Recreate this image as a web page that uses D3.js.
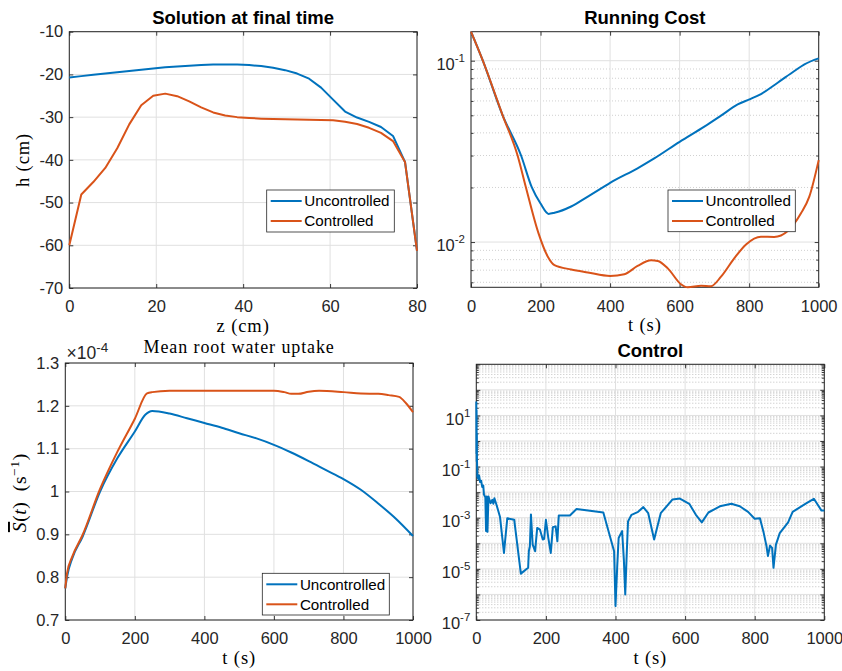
<!DOCTYPE html>
<html>
<head>
<meta charset="utf-8">
<script src="https://cdn.jsdelivr.net/npm/d3@7"></script>
<style>
  html, body { margin: 0; padding: 0; background: #fff; }
  svg { display: block; }
</style>
</head>
<body>
<script>
// ---------------- data ----------------
// Pressure head profile at the final time, h (cm) against depth z (cm)
const zNodes = [0, 2.76, 5.52, 8.28, 11.03, 13.79, 16.55, 19.31, 22.07, 24.83, 27.59, 30.34, 33.1, 35.86, 38.62,
                41.38, 44.14, 46.9, 49.66, 52.41, 55.17, 57.93, 60.69, 63.45, 66.21, 68.97, 71.72, 74.48, 77.24, 80];
const hUncontrolled = [-20.7, -20.4, -20.1, -19.8, -19.5, -19.2, -18.9, -18.6, -18.35, -18.15, -17.95, -17.8, -17.7, -17.65, -17.7,
                       -17.8, -18.05, -18.45, -19.0, -19.8, -21.0, -23.1, -25.9, -28.7, -30.1, -31.1, -32.3, -34.4, -40.5, -61.3];
const hControlled = [-60, -48.1, -45.2, -41.9, -37.3, -31.7, -27.2, -25.0, -24.5, -25.1, -26.3, -27.7, -28.9, -29.6, -30.0,
                     -30.2, -30.35, -30.45, -30.5, -30.55, -30.6, -30.65, -30.75, -31.1, -31.6, -32.5, -33.7, -35.6, -40.5, -61.3];

// Running cost (log scale)
const tCostUncontrolled = [0, 34, 91, 144, 175, 200, 223, 240, 288, 336, 379, 400, 479, 527, 600, 671, 719, 767, 801, 834, 882, 930, 959, 1000];
const costUncontrolled = [0.1445, 0.1, 0.05, 0.03, 0.02, 0.0163, 0.0143, 0.0145, 0.0157, 0.0178, 0.02, 0.0212, 0.0255, 0.0289,
                          0.0357, 0.0433, 0.0498, 0.0574, 0.0612, 0.0655, 0.0756, 0.0877, 0.0955, 0.103];
const tCostControlled = [0, 34, 91, 134, 158, 194, 221, 240, 288, 336, 400, 441, 479, 518, 537, 566, 604, 623, 662, 690, 719,
                         757, 791, 834, 872, 911, 949, 973, 1000];
const costControlled = [0.1445, 0.1, 0.05, 0.03, 0.02, 0.0112, 0.0083, 0.00746, 0.00706, 0.0068, 0.0065, 0.00664, 0.00738, 0.00793,
                        0.00787, 0.00716, 0.00585, 0.00563, 0.00574, 0.00571, 0.00644, 0.00813, 0.0097, 0.0107, 0.01066, 0.0115,
                        0.0144, 0.0178, 0.0283];

// Mean root water uptake (s^-1)
const tUptakeUncontrolled = [0, 5, 20, 50, 100, 150, 200, 230, 250, 300, 350, 400, 450, 500, 550, 600, 650, 700, 750, 800, 850, 900, 950, 1000];
const uptakeUncontrolled = [0.774e-4, 0.801e-4, 0.844e-4, 0.895e-4, 1.0e-4, 1.078e-4, 1.14e-4, 1.179e-4, 1.188e-4, 1.182e-4, 1.171e-4,
                            1.16e-4, 1.149e-4, 1.136e-4, 1.124e-4, 1.109e-4, 1.091e-4, 1.071e-4, 1.05e-4, 1.029e-4, 1.004e-4, 0.972e-4,
                            0.937e-4, 0.896e-4];
const tUptakeControlled = [0, 5, 20, 50, 100, 150, 200, 235, 250, 300, 400, 600, 630, 650, 670, 700, 730, 800, 850, 900, 930, 960, 980, 1000];
const uptakeControlled = [0.774e-4, 0.809e-4, 0.848e-4, 0.899e-4, 1.006e-4, 1.093e-4, 1.17e-4, 1.229e-4, 1.232e-4, 1.235e-4, 1.2355e-4,
                          1.2355e-4, 1.232e-4, 1.228e-4, 1.228e-4, 1.233e-4, 1.235e-4, 1.232e-4, 1.229e-4, 1.228e-4, 1.225e-4,
                          1.221e-4, 1.206e-4, 1.185e-4];

// Control signal (log scale)
const tControl = [0, 0.4, 0.8, 1.2, 1.6, 2, 3, 6, 8, 11, 14, 17, 20, 22, 26, 28, 30, 32, 35, 41, 46, 49, 52, 58, 68, 79.5, 89,
                  109, 128, 149, 151, 154, 157, 162, 169, 175, 183, 191, 195, 200, 207, 214, 220, 228, 233, 237, 269, 288, 365,
                  396, 400, 405, 409, 419, 424, 428, 432, 436, 446, 465, 480, 494, 511, 530, 564, 585, 612, 631, 648, 667, 700,
                  733, 757, 781, 800, 815, 826, 834, 838, 844, 850, 854, 861, 872, 896, 909, 949, 970, 992, 1000];
const controlValues = [35, 0.32, 16, 0.16, 2.0, 0.18, 0.04, 0.032, 0.045, 0.025, 0.028, 0.016, 0.018, 0.008, 0.0063, 3.0e-4, 6.8e-3,
                       2.8e-4, 6.8e-3, 3.7e-3, 5.0e-3, 3.5e-3, 5.8e-3, 3.2e-3, 1.1e-3, 4.2e-5, 9.5e-4, 8.3e-4, 6.5e-6, 1.1e-5,
                       5.0e-5, 7.6e-5, 1.35e-3, 8.9e-5, 4.9e-5, 4.0e-4, 3.4e-4, 1.4e-4, 1.5e-4, 8.3e-4, 1.6e-4, 4.2e-5, 4.3e-4,
                       4.6e-4, 1.2e-4, 1.23e-3, 1.23e-3, 2.2e-3, 1.6e-3, 4.9e-5, 3.5e-7, 1.3e-5, 1.6e-4, 3.0e-4, 2.3e-5, 1.0e-6,
                       3.2e-5, 7.2e-4, 1.3e-3, 1.7e-3, 2.6e-3, 1.5e-3, 1.4e-4, 1.5e-3, 5.2e-3, 5.6e-3, 3.5e-3, 1.3e-3, 6.6e-4,
                       1.6e-3, 2.8e-3, 3.5e-3, 2.8e-3, 1.7e-3, 9.1e-4, 9.5e-4, 2.5e-4, 7.6e-5, 3.2e-5, 8.1e-5, 6.6e-5, 1.1e-5,
                       8.9e-5, 2.5e-4, 6.6e-4, 1.7e-3, 3.7e-3, 5.5e-3, 1.9e-3, 1.9e-3];

// Axis ranges and ticks
const hDomain = [-70, -10], hTicks = [-70, -60, -50, -40, -30, -20, -10];
const zDomain = [0, 80], zTicks = [0, 20, 40, 60, 80];
const tDomain = [0, 1000], tTicks = [0, 200, 400, 600, 800, 1000];
const costDomain = [0.00563, 0.1445];
const uptakeDomain = [0.7e-4, 1.3e-4], uptakeTicks = [0.7e-4, 0.8e-4, 0.9e-4, 1.0e-4, 1.1e-4, 1.2e-4, 1.3e-4];
const controlDomain = [1e-7, 1e3];
const controlLabelExponents = [1, -1, -3, -5, -7];

const seriesNames = ["Uncontrolled", "Controlled"];

// ---------------- styles ----------------
const COLORS = ["#0072BD", "#D95319"];
const AXIS = "#262626";
const SANS = "'Liberation Sans', Arial, Helvetica, sans-serif";
const SERIF = "'Liberation Serif', 'Times New Roman', serif";
const TICK_FONT = 16.5;

const svg = d3.select("body").append("svg").attr("width", 842).attr("height", 671);
svg.append("rect").attr("width", 842).attr("height", 671).attr("fill", "#fff");

function logMinor(domain) {
  const out = [];
  const lo = Math.floor(Math.log10(domain[0])), hi = Math.ceil(Math.log10(domain[1]));
  for (let e = lo; e < hi; e++) {
    for (let k = 2; k <= 9; k++) {
      const v = k * Math.pow(10, e);
      if (v >= domain[0] * 0.999 && v <= domain[1] * 1.001) out.push(v);
    }
  }
  return out;
}
function logMajor(domain) {
  const out = [];
  const lo = Math.ceil(Math.log10(domain[0]) - 1e-9), hi = Math.floor(Math.log10(domain[1]) + 1e-9);
  for (let e = lo; e <= hi; e++) out.push(Math.pow(10, e));
  return out;
}

function styleAxis(sel) {
  sel.attr("font-size", TICK_FONT).attr("font-family", SANS).attr("color", AXIS);
  sel.select(".domain").remove();
  sel.selectAll(".tick line").attr("stroke-width", 0.9);
  sel.selectAll(".tick text").attr("fill", AXIS);
}

function supLabels(sel, show) {
  sel.selectAll(".tick text").each(function (d) {
    const t = d3.select(this);
    t.text(null);
    const e = Math.round(Math.log10(d));
    if (!show(e)) return;
    t.attr("dy", "0.53em");
    t.append("tspan").text("10");
    t.append("tspan").attr("dy", -8).attr("font-size", 11.5).text(String(e));
  });
}

function panel(cfg) {
  const { left, right, top, bottom } = cfg.box;
  const g = svg.append("g");
  const x = d3.scaleLinear().domain(cfg.xDomain).range([left, right]);
  const y = (cfg.yLog ? d3.scaleLog() : d3.scaleLinear()).domain(cfg.yDomain).range([bottom, top]);

  // grid
  const grid = g.append("g");
  const yMajor = cfg.yLog ? logMajor(cfg.yDomain) : cfg.yTicks;
  if (cfg.yLog) {
    grid.selectAll("line.minor").data(logMinor(cfg.yDomain)).join("line")
      .attr("x1", left).attr("x2", right).attr("y1", d => y(d)).attr("y2", d => y(d))
      .attr("stroke", cfg.minorColor || "#c4c4c4").attr("stroke-width", 0.8).attr("stroke-dasharray", "1,2");
  }
  grid.selectAll("line.gx").data(cfg.xTicks).join("line")
    .attr("x1", d => x(d)).attr("x2", d => x(d)).attr("y1", top).attr("y2", bottom)
    .attr("stroke", "#e0e0e0").attr("stroke-width", 1);
  grid.selectAll("line.gy").data(yMajor).join("line")
    .attr("x1", left).attr("x2", right).attr("y1", d => y(d)).attr("y2", d => y(d))
    .attr("stroke", "#e0e0e0").attr("stroke-width", 1);

  // axes (ticks point inward on all four sides), drawn beneath the data
  const fmtX = d => String(d);
  const ax = g.append("g");
  ax.append("g").attr("transform", `translate(0,${bottom})`)
    .call(d3.axisBottom(x).tickValues(cfg.xTicks).tickSizeInner(-4).tickSizeOuter(0).tickPadding(12.5).tickFormat(fmtX))
    .call(styleAxis);
  ax.append("g").attr("transform", `translate(0,${top})`)
    .call(d3.axisTop(x).tickValues(cfg.xTicks).tickSizeInner(-4).tickSizeOuter(0).tickFormat(""))
    .call(styleAxis);

  const yl = ax.append("g").attr("transform", `translate(${left},0)`)
    .call(d3.axisLeft(y).tickValues(yMajor).tickSizeInner(-4).tickSizeOuter(0).tickPadding(6)
      .tickFormat(cfg.yLog ? "" : cfg.yFormat))
    .call(styleAxis);
  if (cfg.yLog) supLabels(yl, cfg.yLabelShow);
  ax.append("g").attr("transform", `translate(${right},0)`)
    .call(d3.axisRight(y).tickValues(yMajor).tickSizeInner(-4).tickSizeOuter(0).tickFormat(""))
    .call(styleAxis);
  if (cfg.yLog) {
    const minor = logMinor(cfg.yDomain);
    ax.append("g").attr("transform", `translate(${left},0)`)
      .call(d3.axisLeft(y).tickValues(minor).tickSizeInner(-2.5).tickSizeOuter(0).tickFormat(""))
      .call(styleAxis);
    ax.append("g").attr("transform", `translate(${right},0)`)
      .call(d3.axisRight(y).tickValues(minor).tickSizeInner(-2.5).tickSizeOuter(0).tickFormat(""))
      .call(styleAxis);
  }
  ax.append("rect").attr("x", left).attr("y", top).attr("width", right - left).attr("height", bottom - top)
    .attr("fill", "none").attr("stroke", AXIS).attr("stroke-width", 1);

  // data lines
  const lines = g.append("g");
  cfg.series.forEach(s => {
    const line = d3.line().x((d, i) => x(s.x[i])).y(d => y(d)).curve(cfg.curve || d3.curveLinear);
    lines.append("path").attr("d", line(s.y)).attr("fill", "none")
      .attr("stroke", s.color).attr("stroke-width", 2).attr("stroke-linejoin", "round");
  });

  // title
  const cx = (left + right) / 2;
  if (cfg.title) {
    g.append("text").attr("x", cx).attr("y", top - (cfg.titleSerif ? 9.7 : 7.3)).attr("text-anchor", "middle")
      .attr("font-family", cfg.titleSerif ? SERIF : SANS).attr("font-weight", cfg.titleSerif ? "normal" : "bold")
      .attr("font-size", cfg.titleSerif ? 18 : 18.5).attr("letter-spacing", cfg.titleSerif ? 0.9 : 0)
      .attr("fill", "#000").text(cfg.title);
  }
  // x label
  g.append("text").attr("x", cx).attr("y", bottom + 43.5).attr("text-anchor", "middle")
    .attr("font-family", SERIF).attr("font-size", 18.5).attr("letter-spacing", 0.9).attr("fill", "#000").text(cfg.xLabel);

  // legend
  if (cfg.legend) {
    const L = cfg.legend;
    const lg = g.append("g");
    lg.append("rect").attr("x", L.x).attr("y", L.y).attr("width", L.w).attr("height", L.h)
      .attr("fill", "#fff").attr("stroke", AXIS).attr("stroke-width", 0.8);
    cfg.series.forEach((s, i) => {
      const cy = L.y + 11 + i * 20;
      lg.append("line").attr("x1", L.x + 4).attr("x2", L.x + 35).attr("y1", cy).attr("y2", cy)
        .attr("stroke", s.color).attr("stroke-width", 2);
      lg.append("text").attr("x", L.x + 37.6).attr("y", cy + 5.4).attr("font-family", SANS)
        .attr("font-size", 15.2).attr("fill", "#000").text(s.name);
    });
  }
  return g;
}

// ---- Solution at final time ----
const g1 = panel({
  box: { left: 69.3, right: 417, top: 31.7, bottom: 288 },
  xDomain: zDomain, xTicks: zTicks, yDomain: hDomain, yTicks: hTicks, yFormat: d => String(d),
  title: "Solution at final time", xLabel: "z (cm)",
  series: [
    { name: seriesNames[0], color: COLORS[0], x: zNodes, y: hUncontrolled },
    { name: seriesNames[1], color: COLORS[1], x: zNodes, y: hControlled }
  ],
  legend: { x: 266.7, y: 190, w: 127.6, h: 42 }
});
g1.append("text").attr("transform", "translate(29,160) rotate(-90)").attr("text-anchor", "middle")
  .attr("font-family", SERIF).attr("font-size", 18.5).attr("letter-spacing", 0.9).attr("fill", "#000").text("h (cm)");

// ---- Running Cost ----
panel({
  box: { left: 471, right: 818.7, top: 31.7, bottom: 287.3 },
  xDomain: tDomain, xTicks: tTicks, yDomain: costDomain, yLog: true, yLabelShow: () => true,
  title: "Running Cost", xLabel: "t (s)", curve: d3.curveMonotoneX,
  series: [
    { name: seriesNames[0], color: COLORS[0], x: tCostUncontrolled, y: costUncontrolled },
    { name: seriesNames[1], color: COLORS[1], x: tCostControlled, y: costControlled }
  ],
  legend: { x: 668, y: 190, w: 127.3, h: 41.7 }
});

// ---- Mean root water uptake ----
const g3 = panel({
  box: { left: 65.3, right: 413, top: 363, bottom: 620 },
  xDomain: tDomain, xTicks: tTicks, yDomain: uptakeDomain, yTicks: uptakeTicks,
  yFormat: d => String(+(d * 1e4).toFixed(2)),
  title: "Mean root water uptake", titleSerif: true, xLabel: "t (s)", curve: d3.curveMonotoneX,
  series: [
    { name: seriesNames[0], color: COLORS[0], x: tUptakeUncontrolled, y: uptakeUncontrolled },
    { name: seriesNames[1], color: COLORS[1], x: tUptakeControlled, y: uptakeControlled }
  ],
  legend: { x: 262.3, y: 573.3, w: 127, h: 41.7 }
});
// exponent multiplier of the y axis
const ex = g3.append("text").attr("x", 66.5).attr("y", 359).attr("font-family", SANS)
  .attr("font-size", 17.5).attr("fill", AXIS);
ex.append("tspan").text("\u00d710");
ex.append("tspan").attr("dy", -7.5).attr("font-size", 13.5).text("-4");
// y label: S-bar(t) (s^-1)
const yl3 = g3.append("text").attr("transform", "translate(26,492.7) rotate(-90)").attr("text-anchor", "middle")
  .attr("font-family", SERIF).attr("font-size", 19.5).attr("letter-spacing", 0.6).attr("fill", "#000");
yl3.append("tspan").attr("font-style", "italic").attr("text-decoration", "overline").text("S");
yl3.append("tspan").text("(");
yl3.append("tspan").attr("font-style", "italic").text("t");
yl3.append("tspan").text(")\u2002(s");
yl3.append("tspan").attr("dy", -7.5).attr("font-size", 13.5).text("\u22121");
yl3.append("tspan").attr("dy", 7.5).text(")");

// ---- Control ----
panel({
  box: { left: 476.3, right: 824.3, top: 364.3, bottom: 620 },
  xDomain: tDomain, xTicks: tTicks, yDomain: controlDomain, yLog: true,
  yLabelShow: e => controlLabelExponents.includes(e),
  minorColor: "#b0b0b0",
  title: "Control", xLabel: "t (s)",
  series: [
    { name: "Control", color: COLORS[0], x: tControl, y: controlValues }
  ]
});
</script>
</body>
</html>
